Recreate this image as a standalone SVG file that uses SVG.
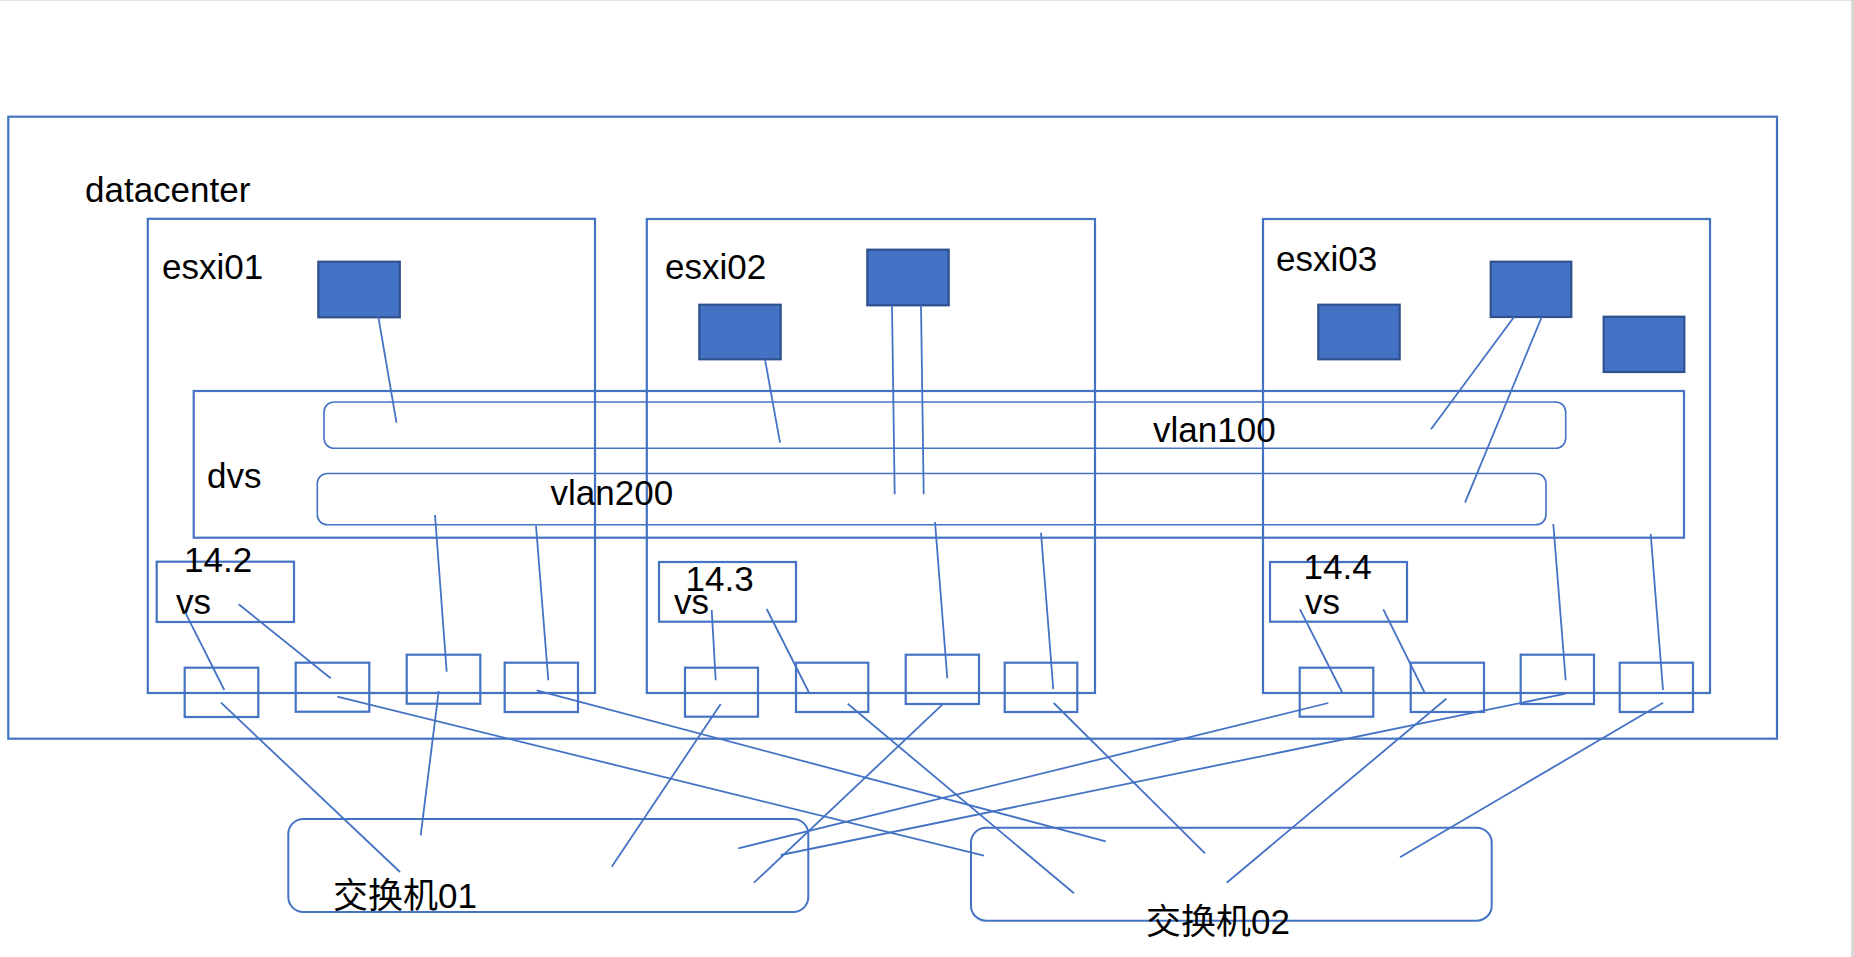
<svg xmlns="http://www.w3.org/2000/svg" width="1854" height="957" viewBox="0 0 1854 957">
<style>
.box{fill:none;stroke:#4472C4;stroke-width:2.2}
.vlan{fill:none;stroke:#4472C4;stroke-width:1.6}
.vm{fill:#4472C4;stroke:#2F528F;stroke-width:2.2}
.sw{fill:none;stroke:#4472C4;stroke-width:2}
.ln{stroke:#4472C4;stroke-width:1.8;fill:none}
.t{font-family:"Liberation Sans","Noto Sans CJK SC",Arial,sans-serif;font-size:35px;fill:#000}
</style>
<rect width="1854" height="957" fill="#fff"/>
<line x1="0" y1="0.5" x2="1854" y2="0.5" stroke="#e3e3e3" stroke-width="1"/>
<line x1="1852.5" y1="0" x2="1852.5" y2="957" stroke="#d9d9d9" stroke-width="3"/>

<g id="datacenter">
<rect class="box" x="8.3" y="116.7" width="1768.7" height="622"/>
<text class="t" x="85" y="201.7">datacenter</text>
</g>

<g id="esxi01">
<rect class="box" x="147.8" y="218.8" width="447.2" height="474.2"/>
<text class="t" x="162" y="279">esxi01</text>
</g>
<g id="esxi02">
<rect class="box" x="646.8" y="219" width="448.2" height="474"/>
<text class="t" x="665" y="279">esxi02</text>
</g>
<g id="esxi03">
<rect class="box" x="1263" y="219" width="447" height="474"/>
<text class="t" x="1276" y="270.7">esxi03</text>
</g>

<g id="vm1"><rect class="vm" x="318.3" y="261.7" width="81.5" height="55.6"/></g>
<g id="vm2a"><rect class="vm" x="699.3" y="304.7" width="81.4" height="54.6"/></g>
<g id="vm2b"><rect class="vm" x="867.3" y="249.7" width="81.4" height="55.6"/></g>
<g id="vm3a"><rect class="vm" x="1318.3" y="304.7" width="81.4" height="54.6"/></g>
<g id="vm3b"><rect class="vm" x="1490.7" y="261.7" width="80.6" height="55.3"/></g>
<g id="vm3c"><rect class="vm" x="1603.7" y="316.7" width="80.6" height="55.3"/></g>

<g id="dvs">
<rect class="box" x="193.7" y="391" width="1490.3" height="146.7"/>
<text class="t" x="207" y="487.7">dvs</text>
</g>
<g id="vlan100">
<rect class="vlan" x="324" y="402" width="1241.7" height="46.3" rx="10"/>
<text class="t" x="1153" y="441.7">vlan100</text>
</g>
<g id="vlan200">
<rect class="vlan" x="317.3" y="473.5" width="1228.7" height="51.3" rx="10"/>
<text class="t" x="550.5" y="505">vlan200</text>
</g>

<g id="vs1">
<rect class="box" x="156.7" y="561.7" width="137.3" height="60.3"/>
<text class="t" x="184" y="572.3">14.2</text>
<text class="t" x="176" y="614.3">vs</text>
</g>
<g id="vs2">
<rect class="box" x="659" y="562" width="137" height="59.7"/>
<text class="t" x="685.6" y="590.7">14.3</text>
<text class="t" x="674" y="614">vs</text>
</g>
<g id="vs3">
<rect class="box" x="1270" y="562" width="137" height="59.7"/>
<text class="t" x="1303.6" y="579.3">14.4</text>
<text class="t" x="1305" y="614">vs</text>
</g>

<g id="p1"><rect class="box" x="184.7" y="667.7" width="73.6" height="49.3"/></g>
<g id="p2"><rect class="box" x="295.7" y="662.7" width="73.6" height="49"/></g>
<g id="p3"><rect class="box" x="406.7" y="654.7" width="73.6" height="49"/></g>
<g id="p4"><rect class="box" x="504.7" y="662.7" width="73.3" height="49.3"/></g>
<g id="q1"><rect class="box" x="685" y="667.7" width="73" height="49"/></g>
<g id="q2"><rect class="box" x="796" y="662.7" width="72.3" height="49.3"/></g>
<g id="q3"><rect class="box" x="905.7" y="654.7" width="73.3" height="49.3"/></g>
<g id="q4"><rect class="box" x="1004.7" y="662.7" width="72.6" height="49.3"/></g>
<g id="r1"><rect class="box" x="1299.7" y="667.7" width="73.6" height="49"/></g>
<g id="r2"><rect class="box" x="1410.7" y="662.7" width="73.3" height="49.3"/></g>
<g id="r3"><rect class="box" x="1520.7" y="654.7" width="73.3" height="49.3"/></g>
<g id="r4"><rect class="box" x="1619.7" y="662.7" width="73.3" height="49.3"/></g>

<g id="switch01">
<rect class="sw" x="288.3" y="819" width="520" height="93" rx="15"/>
<text class="t" x="333" y="908">交换机01</text>
</g>
<g id="switch02">
<rect class="sw" x="971" y="827.7" width="520.7" height="93" rx="15"/>
<text class="t" x="1146" y="934">交换机02</text>
</g>

<g id="connectors">
<line class="ln" x1="378.3" y1="316.7" x2="396.5" y2="422.7"/>
<line class="ln" x1="765" y1="359.3" x2="780" y2="442.7"/>
<line class="ln" x1="892" y1="305.3" x2="894.7" y2="494.3"/>
<line class="ln" x1="921" y1="305.3" x2="923.7" y2="494.3"/>
<line class="ln" x1="1514" y1="317" x2="1431" y2="429.3"/>
<line class="ln" x1="1541.7" y1="317" x2="1465" y2="502.7"/>

<line class="ln" x1="185.3" y1="612.7" x2="224.3" y2="690"/>
<line class="ln" x1="238.7" y1="604.3" x2="330.7" y2="678.3"/>
<line class="ln" x1="435" y1="515" x2="446.7" y2="671.7"/>
<line class="ln" x1="536" y1="525.7" x2="548.3" y2="680.3"/>
<line class="ln" x1="711.7" y1="610" x2="715.7" y2="680.3"/>
<line class="ln" x1="766.7" y1="609" x2="808.7" y2="692"/>
<line class="ln" x1="935" y1="522" x2="947.3" y2="678.3"/>
<line class="ln" x1="1041" y1="532.7" x2="1053.3" y2="689.3"/>
<line class="ln" x1="1300" y1="609.3" x2="1342" y2="692"/>
<line class="ln" x1="1383.3" y1="609.3" x2="1424.3" y2="692"/>
<line class="ln" x1="1553.3" y1="524" x2="1565.7" y2="680.3"/>
<line class="ln" x1="1650.7" y1="534" x2="1663" y2="690"/>

<line class="ln" x1="221" y1="702.7" x2="400" y2="872"/>
<line class="ln" x1="337.3" y1="696.7" x2="984" y2="855.7"/>
<line class="ln" x1="438.7" y1="691" x2="420.7" y2="835.3"/>
<line class="ln" x1="536.7" y1="690.3" x2="1105.7" y2="841.3"/>
<line class="ln" x1="720.7" y1="704" x2="611.7" y2="866.7"/>
<line class="ln" x1="847.7" y1="703.7" x2="1074" y2="893.3"/>
<line class="ln" x1="942.3" y1="704.7" x2="754" y2="882.7"/>
<line class="ln" x1="1053.7" y1="703" x2="1205" y2="853.3"/>
<line class="ln" x1="1328.3" y1="703" x2="738.3" y2="848.3"/>
<line class="ln" x1="1446.3" y1="698.7" x2="1226.7" y2="882.7"/>
<line class="ln" x1="1565.7" y1="693.7" x2="780.7" y2="855"/>
<line class="ln" x1="1663" y1="702.7" x2="1400" y2="857.3"/>
</g>
</svg>
